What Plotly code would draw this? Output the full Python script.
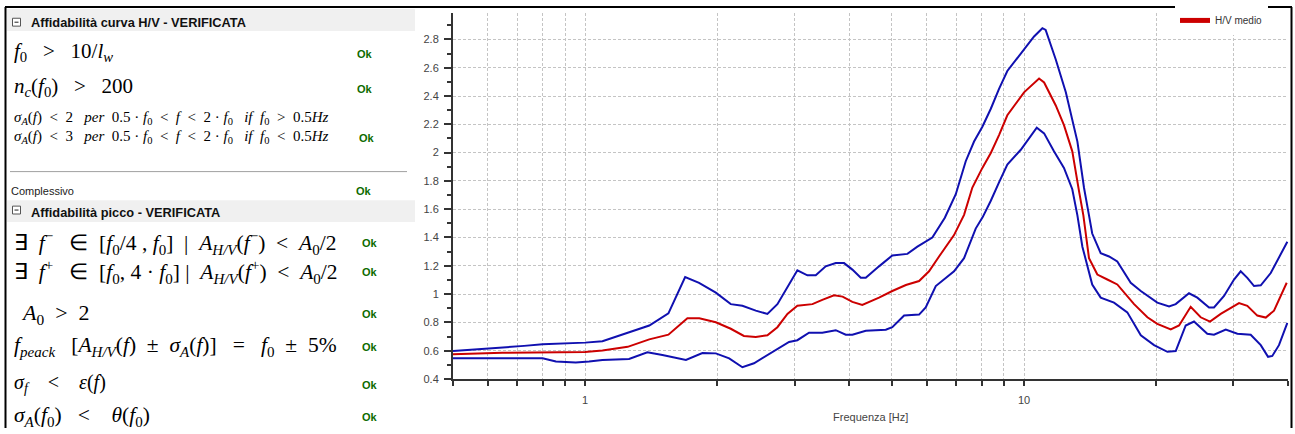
import plotly.graph_objects as go
import math

# ---------------- data ----------------
freq_upper = [0.5, 0.568, 0.648, 0.726, 0.80, 0.90, 1.0, 1.095, 1.259, 1.40, 1.548, 1.69, 1.818,
              1.985, 2.147, 2.282, 2.448, 2.602, 2.742, 2.866, 3.045, 3.209, 3.353, 3.533, 3.724,
              3.89, 4.063, 4.246, 4.359, 4.673, 5.01, 5.423, 5.715, 6.18, 6.60, 6.99, 7.365, 7.693,
              8.036, 8.40, 8.77, 9.16, 10.0, 10.54, 11.01, 11.2, 11.81, 12.45, 13.23, 13.7, 14.06,
              14.3, 14.95, 15.62, 16.31, 17.5, 18.45, 20.12, 21.4, 22.16, 23.76, 24.82, 26.39,
              27.09, 28.55, 30.09, 31.16, 32.26, 33.42, 34.62, 36.48, 39.8]
hv_upper = [0.597, 0.609, 0.62, 0.634, 0.646, 0.652, 0.657, 0.667, 0.727, 0.778, 0.864, 1.121, 1.080,
            1.010, 0.929, 0.917, 0.883, 0.860, 0.929, 1.034, 1.168, 1.133, 1.133, 1.196, 1.219,
            1.219, 1.173, 1.115, 1.115, 1.196, 1.273, 1.284, 1.335, 1.40, 1.54, 1.706, 1.939, 2.078,
            2.183, 2.31, 2.45, 2.577, 2.728, 2.821, 2.879, 2.867, 2.658, 2.426, 2.078, 1.75, 1.556,
            1.428, 1.289, 1.266, 1.231, 1.080, 1.022, 0.940, 0.913, 0.929, 1.006, 0.975, 0.906,
            0.906, 0.987, 1.103, 1.161, 1.115, 1.057, 1.062, 1.149, 1.370]

freq_mean = [0.5, 0.648, 1.0, 1.095, 1.25, 1.40, 1.548, 1.71, 1.82, 1.917, 1.985, 2.147, 2.30, 2.448,
             2.602, 2.742, 2.89, 3.045, 3.295, 3.47, 3.69, 3.86, 4.063, 4.28, 4.673, 5.01, 5.38,
             5.766, 6.075, 6.403, 6.926, 7.3, 7.625, 8.036, 8.40, 8.77, 9.16, 10.0, 10.82, 11.11,
             11.81, 12.33, 12.88, 13.34, 13.65, 14.06, 14.69, 15.48, 16.31, 17.81, 19.1, 20.12,
             21.59, 22.55, 23.97, 25.26, 26.53, 28.06, 30.89, 32.26, 34.0, 35.54, 37.11, 39.67]
hv_mean = [0.574, 0.585, 0.59, 0.602, 0.627, 0.68, 0.713, 0.829, 0.829, 0.813, 0.801, 0.755, 0.704, 0.697,
           0.709, 0.766, 0.86, 0.917, 0.929, 0.959, 0.992, 0.982, 0.945, 0.924, 0.975, 1.022, 1.064,
           1.092, 1.161, 1.266, 1.417, 1.56, 1.753, 1.892, 1.997, 2.124, 2.264, 2.426, 2.524, 2.496,
           2.333, 2.194, 2.009, 1.73, 1.556, 1.254, 1.138, 1.103, 1.068, 0.929, 0.836, 0.790,
           0.750, 0.778, 0.910, 0.836, 0.806, 0.860, 0.936, 0.917, 0.848, 0.834, 0.883, 1.080]

freq_lower = [0.5, 0.80, 0.858, 0.952, 1.021, 1.095, 1.259, 1.386, 1.50, 1.697, 1.85, 1.985, 2.129,
              2.282, 2.425, 2.602, 2.766, 2.915, 3.045, 3.237, 3.47, 3.724, 3.925, 4.063, 4.359,
              4.842, 5.01, 5.33, 5.766, 5.97, 6.294, 6.926, 7.30, 7.76, 8.05, 8.4, 8.77, 9.16, 9.83,
              10.69, 11.11, 11.7, 12.33, 12.88, 13.23, 13.58, 14.3, 14.95, 16.03, 17.19, 18.45,
              19.78, 21.21, 22.16, 23.35, 24.39, 26.15, 27.09, 28.81, 30.62, 32.84, 34.62, 35.97,
              36.78, 38.09, 39.8]
hv_lower = [0.546, 0.546, 0.523, 0.516, 0.523, 0.534, 0.541, 0.588, 0.569, 0.534, 0.583, 0.581, 0.546,
            0.483, 0.511, 0.569, 0.616, 0.662, 0.674, 0.727, 0.727, 0.745, 0.713, 0.713, 0.741,
            0.748, 0.766, 0.848, 0.855, 0.906, 1.057, 1.161, 1.254, 1.463, 1.544, 1.66, 1.79, 1.915, 2.02,
            2.176, 2.136, 2.009, 1.892, 1.741, 1.556, 1.335, 1.068, 0.975, 0.940, 0.871, 0.709,
            0.639, 0.592, 0.597, 0.778, 0.806, 0.720, 0.713, 0.750, 0.720, 0.713, 0.639, 0.557,
            0.563, 0.639, 0.797]

x_tick_vals = [0.5, 0.6, 0.7, 0.8, 0.9, 1, 2, 3, 4, 5, 6, 7, 8, 9, 10, 20, 30, 40]
x_tick_text = ["", "", "", "", "", "1", "", "", "", "", "", "", "", "", "10", "", "", ""]

legend_name = "H/V medio"
x_title = "Frequenza [Hz]"

header_1 = "Affidabilità curva H/V - VERIFICATA"
header_2 = "Affidabilità picco - VERIFICATA"
overall_label = "Complessivo"
ok_label = "Ok"

S = "&nbsp;"
S2 = S * 2
S3 = S * 3
S4 = S * 4
f = "<i>f</i>"
f0 = "<i>f</i><sub>0</sub>"
# criteria formulas (rich text) for the two groups
criteria_curve = [
    f0 + S3 + "&gt;" + S3 + "10/<i>l</i><sub><i>w</i></sub>",
    "<i>n</i><sub><i>c</i></sub>(" + f0 + ")" + S3 + "&gt;" + S3 + "200",
    "<i>σ</i><sub><i>A</i></sub>(" + f + ")" + S2 + "&lt;" + S2 + "2" + S3 + "<i>per</i>" + S2 + "0.5" + S + "·" + S + f0
    + S2 + "&lt;" + S2 + f + S2 + "&lt;" + S2 + "2" + S + "·" + S + f0 + S3 + "<i>if</i>" + S2 + f0 + S2 + "&gt;" + S2 + "0.5<i>Hz</i>",
    "<i>σ</i><sub><i>A</i></sub>(" + f + ")" + S2 + "&lt;" + S2 + "3" + S3 + "<i>per</i>" + S2 + "0.5" + S + "·" + S + f0
    + S2 + "&lt;" + S2 + f + S2 + "&lt;" + S2 + "2" + S + "·" + S + f0 + S3 + "<i>if</i>" + S2 + f0 + S2 + "&lt;" + S2 + "0.5<i>Hz</i>",
]
criteria_peak = [
    "∃" + S2 + f + "<sup>−</sup>" + S3 + "∈" + S2 + "[" + f0 + "/4" + S + "," + S + f0 + "]" + S2 + "|" + S2
    + "<i>A</i><sub><i>H/V</i></sub>(" + f + "<sup>−</sup>)" + S2 + "&lt;" + S2 + "<i>A</i><sub>0</sub>/2",
    "∃" + S2 + f + "<sup>+</sup>" + S3 + "∈" + S2 + "[" + f0 + "," + S + "4" + S + "·" + S + f0 + "]" + S + "|" + S2
    + "<i>A</i><sub><i>H/V</i></sub>(" + f + "<sup>+</sup>)" + S2 + "&lt;" + S2 + "<i>A</i><sub>0</sub>/2",
    "<i>A</i><sub>0</sub>" + S2 + "&gt;" + S2 + "2",
    f + "<sub><i>peack</i></sub>" + S3 + "[<i>A</i><sub><i>H/V</i></sub>(" + f + ")" + S2 + "±" + S2
    + "<i>σ</i><sub><i>A</i></sub>(" + f + ")]" + S3 + "=" + S3 + f0 + S2 + "±" + S2 + "5%",
    "<i>σ</i><sub><i>f</i></sub>" + S4 + "&lt;" + S4 + "<i>ε</i>(" + f + ")",
    "<i>σ</i><sub><i>A</i></sub>(" + f0 + ")" + S3 + "&lt;" + S4 + "<i>θ</i>(" + f0 + ")",
]

# ---------------- layout helpers (pixel -> paper) ----------------
W, H = 1295, 434
def px(x):
    return x / W
def py(y):
    return 1 - y / H

BLUE = "#1010b0"
RED = "#cc0000"
GREEN = "#0d6b00"

fig = go.Figure()
fig.add_trace(go.Scatter(x=freq_upper, y=hv_upper, mode="lines", line=dict(color=BLUE, width=2),
                         showlegend=False, hoverinfo="skip"))
fig.add_trace(go.Scatter(x=freq_lower, y=hv_lower, mode="lines", line=dict(color=BLUE, width=2),
                         showlegend=False, hoverinfo="skip"))
fig.add_trace(go.Scatter(x=freq_mean, y=hv_mean, mode="lines", line=dict(color=RED, width=2),
                         name=legend_name))

axis_font = dict(family="Liberation Sans, Arial, sans-serif", size=11, color="#444444")

fig.update_layout(
    width=W, height=H,
    margin=dict(l=0, r=0, t=0, b=0),
    paper_bgcolor="white", plot_bgcolor="white",
    showlegend=True,
    legend=dict(x=px(1175), y=py(6), xanchor="left", yanchor="top",
                font=dict(family="Liberation Sans, Arial, sans-serif", size=10, color="#333333"),
                bgcolor="white", borderwidth=0, tracegroupgap=0, itemsizing="constant"),
    xaxis=dict(
        type="log", domain=[px(453), px(1288.3)],
        range=[math.log10(0.5), math.log10(40)],
        tickmode="array", tickvals=x_tick_vals, ticktext=x_tick_text,
        ticks="outside", ticklen=5, tickwidth=2, tickcolor="#333333",
        showline=True, linecolor="#333333", linewidth=2,
        showgrid=True, gridcolor="#c4c4c4", gridwidth=1, griddash="3px,2px",
        tickfont=axis_font, ticklabelstandoff=5,
        title=dict(text=x_title, font=axis_font, standoff=8),
        zeroline=False, fixedrange=True,
    ),
    yaxis=dict(
        domain=[py(384.3), py(12.7)],
        range=[0.4, 2.99],
        tick0=0.4, dtick=0.2,
        ticks="outside", ticklen=7, tickwidth=2, tickcolor="#333333",
        minor=dict(dtick=0.1, tick0=0.4, ticks="outside", ticklen=4, tickwidth=2, tickcolor="#333333", showgrid=False),
        showline=True, linecolor="#333333", linewidth=2,
        showgrid=True, gridcolor="#c4c4c4", gridwidth=1, griddash="3px,2px",
        tickfont=axis_font, ticklabelstandoff=3,
        zeroline=False, fixedrange=True,
    ),
)

shapes = []
# outer frame
shapes.append(dict(type="line", xref="paper", yref="paper", x0=px(5), x1=px(1292), y0=py(7), y1=py(7),
                   line=dict(color="black", width=2)))
shapes.append(dict(type="line", xref="paper", yref="paper", x0=px(5.5), x1=px(5.5), y0=py(7), y1=0,
                   line=dict(color="black", width=2)))
shapes.append(dict(type="line", xref="paper", yref="paper", x0=px(1291.5), x1=px(1291.5), y0=py(7), y1=0,
                   line=dict(color="black", width=2)))
# header backgrounds
for (t, b) in [(9, 31.5), (203, 225)]:
    shapes.append(dict(type="rect", xref="paper", yref="paper", x0=px(7), x1=px(415), y0=py(b), y1=py(t),
                       fillcolor="#f0f0f0", line=dict(width=0), layer="below"))
# separator
shapes.append(dict(type="line", xref="paper", yref="paper", x0=px(10), x1=px(407), y0=py(174), y1=py(174),
                   line=dict(color="#a0a0a0", width=1)))
# collapse boxes
for cy in [22.5, 213]:
    shapes.append(dict(type="rect", xref="paper", yref="paper", x0=px(12.5), x1=px(20.5), y0=py(cy + 4), y1=py(cy - 4),
                       line=dict(color="#555555", width=1), fillcolor="white"))
    shapes.append(dict(type="line", xref="paper", yref="paper", x0=px(14.5), x1=px(18.5), y0=py(cy), y1=py(cy),
                       line=dict(color="#222222", width=1)))
fig.update_layout(shapes=shapes)

ann = []
sans = "Liberation Sans, Arial, sans-serif"
serif = "Liberation Serif, Times New Roman, serif"
def add_text(text, x, y, size, family, color="black", xanchor="left"):
    ann.append(dict(text=text, x=px(x), y=py(y), xref="paper", yref="paper", showarrow=False,
                    xanchor=xanchor, yanchor="middle", align="left",
                    font=dict(family=family, size=size, color=color)))

add_text("<b>" + header_1 + "</b>", 29, 22.5, 12.8, sans, "#111111")
add_text("<b>" + header_2 + "</b>", 29, 215.5, 12.8, sans, "#111111")
add_text(overall_label, 9, 194, 11, sans, "#222222")

curve_y = [53, 88, 120, 139]
curve_size = [21, 21, 15, 15]
for t, y, s in zip(criteria_curve, curve_y, curve_size):
    add_text(t, 12, y, s, serif)
peak_y = [246, 276, 318, 351, 389, 422]
peak_size = [21.5, 21.5, 22, 21.5, 20, 21.5]
peak_x = [12, 12, 19, 12, 12, 12]
for t, y, s, x in zip(criteria_peak, peak_y, peak_size, peak_x):
    add_text(t, x, y, s, serif)

ok_pos = [(355, 55), (355, 90), (357, 140), (354, 194), (360, 246), (360, 276), (360, 318),
          (360, 352), (360, 390), (360, 423)]
for (x, y) in ok_pos:
    add_text("<b>" + ok_label + "</b>", x, y, 11, sans, GREEN)

fig.update_layout(annotations=ann)

fig.write_html("out.html", config={"displayModeBar": False},
               post_script="document.body.style.margin='0px';")
